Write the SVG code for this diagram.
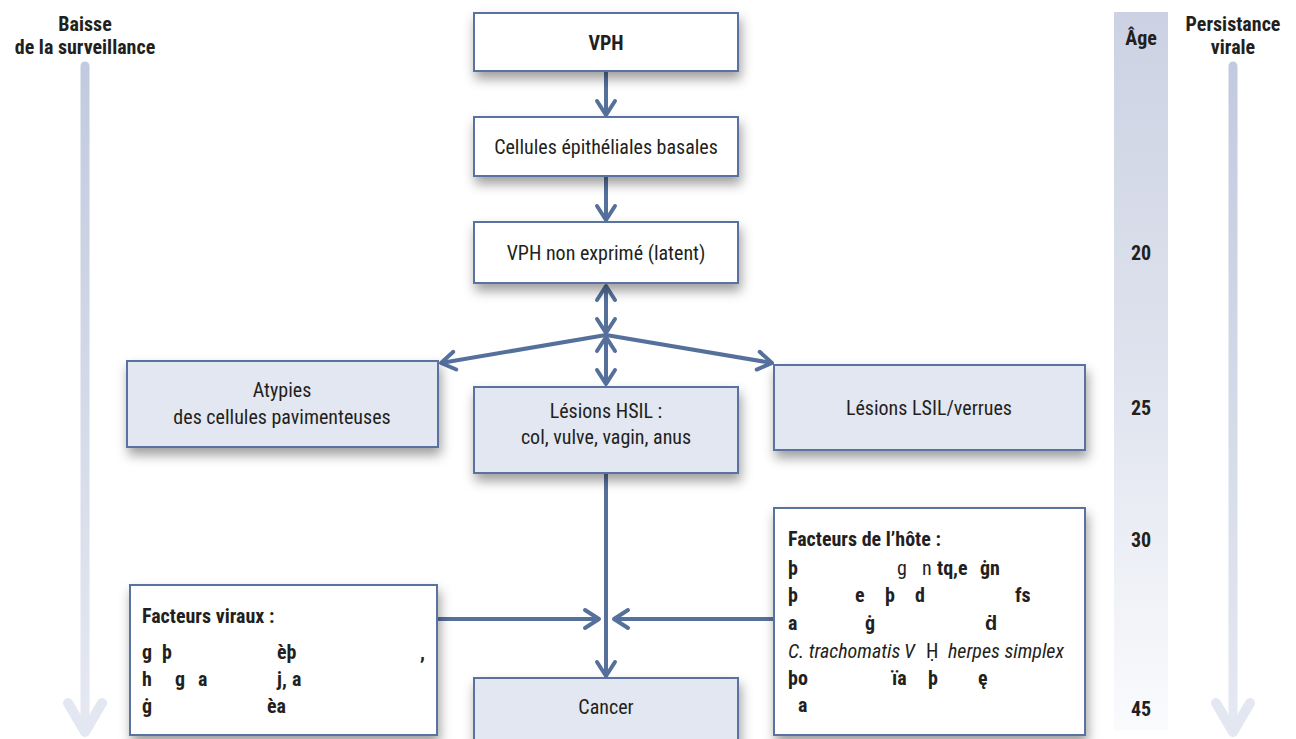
<svg xmlns="http://www.w3.org/2000/svg" width="1296" height="739" viewBox="0 0 1296 739">
<style>
text{font-family:"Liberation Sans Narrow","Roboto Condensed","Liberation Sans",Arial,sans-serif;fill:#231f20;font-size:20px}
.b{font-weight:bold}
.c{text-anchor:middle}
.box{stroke:#5a72a0;stroke-width:2}
.w{fill:#ffffff}
.l{fill:#e3e7f1}
.con{stroke:#56709c;stroke-width:4;fill:none}
.i{font-style:italic}
</style>
<defs>
<filter id="sh" x="-15%" y="-25%" width="135%" height="170%">
<feDropShadow dx="2" dy="7" stdDeviation="6" flood-color="#000" flood-opacity="0.38"/>
</filter>
<marker id="ah" markerUnits="userSpaceOnUse" markerWidth="24" markerHeight="26" viewBox="0 0 24 26" refX="19" refY="13" orient="auto-start-reverse">
<path d="M5,4 L19,13 L5,22" fill="none" stroke="#56709c" stroke-width="4" stroke-linecap="round" stroke-linejoin="round"/>
</marker>
<linearGradient id="ga" gradientUnits="userSpaceOnUse" x1="0" y1="62" x2="0" y2="735">
<stop offset="0" stop-color="#c2cadf"/>
<stop offset="1" stop-color="#e6e9f2"/>
</linearGradient>
<linearGradient id="gage" x1="0" y1="0" x2="0" y2="1">
<stop offset="0" stop-color="#ccd2e3"/>
<stop offset="0.5" stop-color="#dfe3ee"/>
<stop offset="1" stop-color="#fafbfd"/>
</linearGradient>
</defs>

<g id="side-left">
<text class="b c" x="85" y="31">Baisse</text>
<text class="b c" x="85" y="54">de la surveillance</text>
<path d="M85,66 L85,730" stroke="url(#ga)" stroke-width="9" stroke-linecap="round" fill="none"/>
<path d="M68,703 L85,732 L102,703" stroke="#e3e7f1" stroke-width="10" stroke-linecap="round" stroke-linejoin="round" fill="none"/>
</g>

<g id="age-scale">
<rect x="1114" y="12" width="54" height="718" fill="url(#gage)"/>
<text class="b c" x="1141" y="45">Âge</text>
<text class="b c" x="1141" y="260">20</text>
<text class="b c" x="1141" y="415">25</text>
<text class="b c" x="1141" y="547">30</text>
<text class="b c" x="1141" y="716">45</text>
</g>

<g id="side-right">
<text class="b c" x="1233" y="31">Persistance</text>
<text class="b c" x="1233" y="54">virale</text>
<path d="M1233,66 L1233,730" stroke="url(#ga)" stroke-width="9" stroke-linecap="round" fill="none"/>
<path d="M1216,703 L1233,732 L1250,703" stroke="#e3e7f1" stroke-width="10" stroke-linecap="round" stroke-linejoin="round" fill="none"/>
</g>

<g id="connectors">
<line class="con" x1="606" y1="72" x2="606" y2="115" marker-end="url(#ah)"/>
<line class="con" x1="606" y1="177" x2="606" y2="220" marker-end="url(#ah)"/>
<line class="con" x1="606" y1="286" x2="606" y2="333" marker-start="url(#ah)" marker-end="url(#ah)"/>
<line class="con" x1="606" y1="337" x2="606" y2="384" marker-start="url(#ah)" marker-end="url(#ah)"/>
<line class="con" x1="606" y1="335" x2="441" y2="363" marker-end="url(#ah)"/>
<line class="con" x1="606" y1="335" x2="772" y2="363" marker-end="url(#ah)"/>
<line class="con" x1="606" y1="474" x2="606" y2="676" marker-end="url(#ah)"/>
<line class="con" x1="438" y1="619" x2="599" y2="619" marker-end="url(#ah)"/>
<line class="con" x1="775" y1="619" x2="614" y2="619" marker-end="url(#ah)"/>
</g>

<g id="n-vph">
<rect class="box w" x="474" y="13" width="264" height="58" filter="url(#sh)"/>
<text class="b c" x="606" y="50">VPH</text>
</g>
<g id="n-cellules">
<rect class="box w" x="474" y="117" width="264" height="59" filter="url(#sh)"/>
<text class="c" x="606" y="154">Cellules épithéliales basales</text>
</g>
<g id="n-latent">
<rect class="box w" x="474" y="222" width="264" height="61" filter="url(#sh)"/>
<text class="c" x="606" y="260">VPH non exprimé (latent)</text>
</g>
<g id="n-atypies">
<rect class="box l" x="127" y="361" width="311" height="86" filter="url(#sh)"/>
<text class="c" x="282" y="397">Atypies</text>
<text class="c" x="282" y="424">des cellules pavimenteuses</text>
</g>
<g id="n-hsil">
<rect class="box l" x="474" y="387" width="264" height="86" filter="url(#sh)"/>
<text class="c" x="606" y="418">Lésions HSIL :</text>
<text class="c" x="606" y="444">col, vulve, vagin, anus</text>
</g>
<g id="n-lsil">
<rect class="box l" x="774" y="365" width="311" height="85" filter="url(#sh)"/>
<text class="c" x="929" y="415">Lésions LSIL/verrues</text>
</g>
<g id="n-viraux">
<rect class="box w" x="130" y="585" width="307" height="150" filter="url(#sh)"/>
<text class="b" x="142" y="623">Facteurs viraux :</text>
<text class="b" x="142" y="659">g<tspan x="162">þ</tspan><tspan x="277">èþ</tspan><tspan x="420">,</tspan></text>
<text class="b" x="142" y="686">h<tspan x="175">g</tspan><tspan x="198">a</tspan><tspan x="277">j,</tspan><tspan x="292">a</tspan></text>
<text class="b" x="142" y="713">ġ<tspan x="267">èa</tspan></text>
</g>
<g id="n-hote">
<rect class="box w" x="774" y="508" width="311" height="227" filter="url(#sh)"/>
<text class="b" x="788" y="546">Facteurs de l’hôte :</text>
<text class="b" x="788" y="575">þ<tspan x="897" font-weight="normal">g</tspan><tspan x="922" font-weight="normal">n</tspan><tspan x="937">tq,e</tspan><tspan x="980">ġn</tspan></text>
<text class="b" x="788" y="602">þ<tspan x="855">e</tspan><tspan x="885">þ</tspan><tspan x="915">d</tspan><tspan x="1015">fs</tspan></text>
<text class="b" x="788" y="630">a<tspan x="865">ġ</tspan><tspan x="985">ḋ</tspan></text>
<text class="i" x="788" y="658">C. trachomatis<tspan x="904">V</tspan><tspan x="926" font-style="normal">Ḥ</tspan><tspan x="948">herpes simplex</tspan></text>
<text class="b" x="788" y="685">þo<tspan x="892">ïa</tspan><tspan x="928">þ</tspan><tspan x="978">ę</tspan></text>
<text class="b" x="798" y="712">a</text>
</g>
<g id="n-cancer">
<rect class="box l" x="474" y="678" width="264" height="70" filter="url(#sh)"/>
<text class="c" x="606" y="714">Cancer</text>
</g>
</svg>
